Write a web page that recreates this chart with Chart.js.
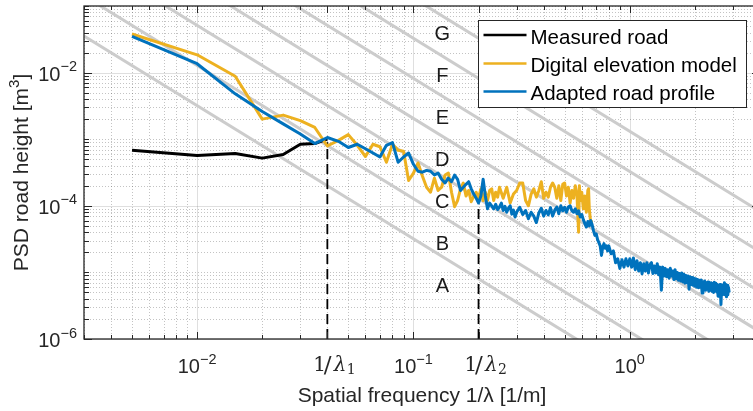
<!DOCTYPE html>
<html>
<head>
<meta charset="utf-8">
<script src="https://cdn.jsdelivr.net/npm/chart.js@4.4.0/dist/chart.umd.min.js"></script>
<style>
  html, body { margin: 0; padding: 0; background: #fff; overflow: hidden; }
  #wrap { width: 753px; height: 411px; overflow: hidden; }
  canvas { display: block; }
</style>
</head>
<body>
<div id="wrap"><canvas id="psd" width="770" height="411"></canvas></div>
<script>
// ---- data: PSD of road height vs spatial frequency (log-log) ----
const measuredFreq = [0.005, 0.01, 0.015, 0.02, 0.025, 0.03, 0.035, 0.04];
const measuredPsd  = [6.8e-4, 5.7e-4, 6.1e-4, 5.2e-4, 5.9e-4, 8.4e-4, 8.6e-4, 1.0e-3];

const demFreq = [
  0.005, 0.01, 0.015, 0.02, 0.025, 0.03, 0.035, 0.04, 0.045, 0.05,
  0.055, 0.06, 0.065, 0.07, 0.075, 0.08, 0.085, 0.09, 0.095, 0.1,
  0.105, 0.11, 0.115, 0.12, 0.125, 0.13, 0.135, 0.14, 0.145, 0.15,
  0.155, 0.16, 0.165, 0.17, 0.175, 0.18, 0.185, 0.19, 0.195, 0.2,
  0.205, 0.21, 0.215, 0.22, 0.225, 0.23, 0.235, 0.24, 0.245, 0.25,
  0.26, 0.27, 0.28, 0.29, 0.3, 0.31, 0.32, 0.33, 0.34, 0.35,
  0.36, 0.37, 0.38, 0.39, 0.4, 0.41, 0.42, 0.43, 0.44, 0.45,
  0.46, 0.47, 0.48, 0.49, 0.5, 0.51, 0.52, 0.53, 0.54, 0.55,
  0.56, 0.57, 0.58, 0.585, 0.59, 0.6, 0.61, 0.62, 0.63, 0.64,
  0.645, 0.65, 0.66, 0.667
];
const demPsd = [
  3.8e-2, 1.85e-2, 8.8e-3, 2.0e-3, 2.3e-3, 1.9e-3, 1.5e-3, 7.9e-4, 9.6e-4, 1.17e-3,
  8.1e-4, 5.5e-4, 8.4e-4, 7.7e-4, 4.5e-4, 8.4e-4, 6.8e-4, 6.6e-4, 2.4e-4, 3.1e-4,
  4.4e-4, 2.8e-4, 1.9e-4, 1.6e-4, 2.6e-4, 1.7e-4, 1.9e-4, 2.9e-4, 3.1e-4, 1.6e-4,
  9.7e-5, 1.2e-4, 1.8e-4, 2.2e-4, 1.4e-4, 1.7e-4, 1.15e-4, 1.4e-4, 1.6e-4, 1.3e-4,
  1.8e-4, 1.2e-4, 1.6e-4, 1.2e-4, 1.7e-4, 1.8e-4, 1.2e-4, 1.6e-4, 1.35e-4, 1.9e-4,
  1.3e-4, 1.9e-4, 1.1e-4, 1.5e-4, 1.7e-4, 2.2e-4, 2.2e-4, 1.2e-4, 1.0e-4, 1.5e-4,
  1.8e-4, 1.35e-4, 1.7e-4, 2.3e-4, 1.3e-4, 1.6e-4, 1.35e-4, 1.9e-4, 2.2e-4, 1.9e-4,
  1.3e-4, 2.0e-4, 1.2e-4, 2.1e-4, 2.2e-4, 1.4e-4, 1.9e-4, 1.1e-4, 1.7e-4, 1.3e-4,
  2.0e-4, 1.5e-4, 4.0e-5, 2.0e-4, 1.2e-4, 1.6e-4, 9.0e-5, 1.4e-4, 8.0e-5, 1.7e-4,
  1.8e-4, 9.0e-5, 5.5e-5, 6.1e-5
];

const adaptedFreq = [
  0.005, 0.01, 0.015, 0.02, 0.025, 0.03, 0.035, 0.04, 0.045, 0.05,
  0.055, 0.06, 0.065, 0.07, 0.075, 0.08, 0.085, 0.09, 0.095, 0.1,
  0.105, 0.11, 0.115, 0.12, 0.125, 0.13, 0.135, 0.14, 0.145, 0.15,
  0.155, 0.16, 0.165, 0.17, 0.175, 0.18, 0.185, 0.19, 0.195, 0.2,
  0.205, 0.21, 0.215, 0.22, 0.225, 0.23, 0.235, 0.24, 0.245, 0.25,
  0.255, 0.26, 0.265, 0.27, 0.275, 0.28, 0.285, 0.29, 0.295, 0.3,
  0.31, 0.32, 0.33, 0.34, 0.35, 0.36, 0.37, 0.38, 0.39, 0.4,
  0.41, 0.42, 0.43, 0.44, 0.45, 0.46, 0.47, 0.48, 0.49, 0.5,
  0.51, 0.52, 0.53, 0.54, 0.55, 0.56, 0.57, 0.58, 0.59, 0.6,
  0.61, 0.62, 0.63, 0.64, 0.65, 0.66, 0.67, 0.68, 0.69, 0.7,
  0.71, 0.72, 0.73, 0.74, 0.75, 0.76, 0.77, 0.78, 0.79,
  0.8, 0.82, 0.84, 0.86, 0.88, 0.9, 0.92, 0.94, 0.96, 0.98,
  1.0, 1.02, 1.04, 1.06, 1.08, 1.1, 1.12, 1.14, 1.16, 1.18,
  1.2, 1.22, 1.24, 1.26, 1.28, 1.3, 1.32, 1.34, 1.36, 1.38,
  1.4, 1.42, 1.44, 1.46, 1.48, 1.5, 1.52, 1.54, 1.56, 1.58,
  1.6, 1.62, 1.64, 1.66, 1.68, 1.7, 1.72, 1.74, 1.76, 1.78,
  1.8, 1.82, 1.84, 1.86, 1.88, 1.9, 1.92, 1.94, 1.96, 1.98,
  2.0, 2.02, 2.04, 2.06, 2.08, 2.1, 2.12, 2.14, 2.16, 2.18,
  2.2, 2.22, 2.24, 2.26, 2.28, 2.3, 2.32, 2.34, 2.36, 2.38,
  2.4, 2.42, 2.44, 2.46, 2.48, 2.5, 2.52, 2.54, 2.56, 2.58,
  2.6, 2.62, 2.64, 2.66, 2.68, 2.7, 2.72, 2.74, 2.76, 2.78,
  2.8, 2.82, 2.84, 2.86, 2.88
];
const adaptedPsd = [
  3.5e-2, 1.36e-2, 4.8e-3, 2.6e-3, 1.7e-3, 1.2e-3, 8.6e-4, 1.06e-3, 9.3e-4, 7.5e-4,
  8.4e-4, 7.2e-4, 6.2e-4, 5.4e-4, 8.1e-4, 8.9e-4, 4.5e-4, 5.4e-4, 6.2e-4, 4.2e-4,
  3.3e-4, 3.2e-4, 3.4e-4, 3.3e-4, 2.9e-4, 3.1e-4, 2.5e-4, 2.2e-4, 2.6e-4, 2.3e-4,
  2.9e-4, 2.5e-4, 1.7e-4, 1.9e-4, 2.1e-4, 2.3e-4, 1.8e-4, 1.5e-4, 1.3e-4, 1.1e-4,
  1.4e-4, 2.5e-4, 1.4e-4, 9.0e-5, 1.1e-4, 1.0e-4, 9.0e-5, 1.05e-4, 8.8e-5, 9.6e-5,
  1.1e-4, 8.5e-5, 9.8e-5, 8.0e-5, 9.2e-5, 1.0e-4, 7.5e-5, 8.6e-5, 6.8e-5, 8.0e-5,
  9.5e-5, 7.4e-5, 8.5e-5, 6.4e-5, 8.0e-5, 7.0e-5, 5.6e-5, 7.8e-5, 9.2e-5, 7.0e-5,
  8.5e-5, 7.3e-5, 9.4e-5, 7.0e-5, 8.6e-5, 9.6e-5, 7.6e-5, 1.0e-4, 8.4e-5, 9.5e-5,
  8.0e-5, 9.6e-5, 1.0e-4, 8.4e-5, 8.0e-5, 9.0e-5, 7.6e-5, 8.4e-5, 6.8e-5, 7.4e-5,
  6.2e-5, 5.4e-5, 4.8e-5, 5.8e-5, 5.0e-5, 6.0e-5, 5.2e-5, 4.2e-5, 3.6e-5, 3.8e-5,
  3.1e-5, 2.8e-5, 2.5e-5, 1.8e-5, 2.4e-5, 2.7e-5, 2.3e-5, 2.5e-5, 2.1e-5,
  2.5e-5, 1.9e-5, 2.1e-5, 1.4e-5, 1.6e-5, 1.15e-5, 1.55e-5, 1.2e-5, 1.6e-5, 1.25e-5,
  1.6e-5, 1.2e-5, 1.65e-5, 1.1e-5, 1.5e-5, 1.05e-5, 1.4e-5, 9.5e-6, 1.35e-5, 1.05e-5,
  1.4e-5, 9.8e-6, 1.3e-5, 1.4e-5, 9.6e-6, 1.25e-5, 9.8e-6, 1.35e-5, 9.2e-6, 1.2e-5,
  5.4e-6, 1.2e-5, 8.8e-6, 1.15e-5, 8.6e-6, 1.1e-5, 8.2e-6, 1.15e-5, 8.8e-6, 1.05e-5,
  7.8e-6, 1.1e-5, 8.0e-6, 1.0e-5, 7.6e-6, 9.6e-6, 7.4e-6, 9.8e-6, 7.2e-6, 9.4e-6,
  6.9e-6, 9.0e-6, 7.0e-6, 8.8e-6, 5.6e-6, 8.6e-6, 6.6e-6, 8.4e-6, 6.4e-6, 8.2e-6,
  6.2e-6, 8.0e-6, 6.0e-6, 7.8e-6, 5.9e-6, 7.6e-6, 6.0e-6, 7.7e-6, 4.9e-6, 7.2e-6,
  5.6e-6, 7.4e-6, 5.4e-6, 7.0e-6, 5.6e-6, 7.2e-6, 5.2e-6, 6.9e-6, 5.4e-6, 7.0e-6,
  5.2e-6, 6.8e-6, 5.0e-6, 7.1e-6, 5.3e-6, 6.9e-6, 5.1e-6, 6.6e-6, 4.4e-6, 6.4e-6,
  4.8e-6, 6.6e-6, 3.3e-6, 6.2e-6, 4.6e-6, 6.5e-6, 4.8e-6, 7.0e-6, 4.6e-6, 6.6e-6,
  4.3e-6, 6.4e-6, 4.6e-6, 6.0e-6, 5.0e-6
];

// ISO 8608 class boundaries, drawn from n = 0.003 to n = 4 1/m
const isoFreq  = [0.003, 4];
const isoStart = [3.556e-2, 1.422e-1, 5.689e-1, 2.276, 9.102, 36.41, 145.6];
const isoEnd   = [2.0e-8, 8.0e-8, 3.2e-7, 1.28e-6, 5.12e-6, 2.048e-5, 8.192e-5];

// road class letters
const classNames = ['A', 'B', 'C', 'D', 'E', 'F', 'G'];
const classLabelFreq = 0.136;
const classLabelPsd = [6.3e-6, 2.72e-5, 1.15e-4, 4.88e-4, 2.13e-3, 8.93e-3, 3.83e-2];

// wavelength limits 1/λ1, 1/λ2
const limitFreq = [0.04, 0.2];
const limitPsd  = [9.0e-4, 1.05e-4];

// axis ticks
const xTicks = [1e-2, 0.04, 1e-1, 0.2, 1];
const xTickLabels = ['10^\u22122', '1/λ_1', '10^\u22121', '1/λ_2', '10^0'];
const yTicks = [1e-6, 1e-4, 1e-2];
const yTickLabels = ['10^\u22126', '10^\u22124', '10^\u22122'];
const xMajorGrid = [1e-2, 1e-1, 1];

const X_MIN = 0.003, X_MAX = 4, Y_MIN = 1e-6, Y_MAX = 1e-1;

const SANS = '"Liberation Sans", Arial, Helvetica, sans-serif';
const SERIF = '"DejaVu Serif", "Liberation Serif", serif';
const AXIS_COLOR = '#262626';
const BLUE = '#0072BD', YELLOW = '#EDB120';

const toPoints = (xs, ys) => xs.map((v, i) => ({x: v, y: ys[i]}));

// 1..9 x 10^k inside [lo, hi]
function logSteps(lo, hi) {
  const out = [];
  for (let k = Math.floor(Math.log10(lo)); k <= Math.ceil(Math.log10(hi)); k++) {
    for (let m = 1; m <= 9; m++) {
      const v = m * Math.pow(10, k);
      if (v >= lo * 0.999 && v <= hi * 1.001) out.push(v);
    }
  }
  return out;
}
const isIn = (list, v) => list.some(m => Math.abs(m - v) / m < 1e-6);

function drawPow(ctx, text, x, y, align) {
  const [base, exp] = text.split('^');
  ctx.font = `20px ${SANS}`;
  const wb = ctx.measureText(base).width;
  ctx.font = `14.5px ${SANS}`;
  const we = ctx.measureText(exp).width;
  const left = align === 'center' ? x - (wb + we) / 2 : x - wb - we;
  ctx.textAlign = 'left';
  ctx.font = `20px ${SANS}`;
  ctx.fillText(base, left, y);
  ctx.font = `14.5px ${SANS}`;
  ctx.fillText(exp, left + wb, y - 9.5);
}

// "1/λ_k" in a LaTeX-like serif style
function drawInvLambda(ctx, text, x, y) {
  const sub = text.split('_')[1];
  const left = x - 14;
  ctx.textAlign = 'left';
  ctx.font = `20px ${SERIF}`;
  ctx.fillText('1', left, y);
  ctx.font = `23px ${SERIF}`;
  ctx.fillText('/', left + 10.5, y + 1);
  ctx.font = `italic 20px ${SERIF}`;
  ctx.fillText('λ', left + 20.5, y);
  ctx.font = `14px ${SERIF}`;
  ctx.fillText(sub, left + 33.5, y + 3);
}

const axesPlugin = {
  id: 'matlabAxes',
  beforeDatasetsDraw(chart) {
    const {ctx, chartArea: a, scales: {x, y}} = chart;
    ctx.save();
    ctx.lineWidth = 1;
    // minor grid, dotted
    ctx.strokeStyle = 'rgba(38,38,38,0.28)';
    ctx.setLineDash([1, 2]);
    logSteps(X_MIN, X_MAX).forEach(v => {
      if (isIn(xMajorGrid, v)) return;
      const px = Math.round(x.getPixelForValue(v)) + 0.5;
      ctx.beginPath(); ctx.moveTo(px, a.top); ctx.lineTo(px, a.bottom); ctx.stroke();
    });
    logSteps(Y_MIN, Y_MAX).forEach(v => {
      if (isIn(yTicks, v)) return;
      const py = Math.round(y.getPixelForValue(v)) + 0.5;
      ctx.beginPath(); ctx.moveTo(a.left, py); ctx.lineTo(a.right, py); ctx.stroke();
    });
    // major grid, solid
    ctx.setLineDash([]);
    ctx.strokeStyle = 'rgba(38,38,38,0.15)';
    xMajorGrid.forEach(v => {
      const px = Math.round(x.getPixelForValue(v)) + 0.5;
      ctx.beginPath(); ctx.moveTo(px, a.top); ctx.lineTo(px, a.bottom); ctx.stroke();
    });
    yTicks.forEach(v => {
      const py = Math.round(y.getPixelForValue(v)) + 0.5;
      ctx.beginPath(); ctx.moveTo(a.left, py); ctx.lineTo(a.right, py); ctx.stroke();
    });
    ctx.restore();
  },
  afterDatasetsDraw(chart) {
    const {ctx, chartArea: a, scales: {x, y}} = chart;
    ctx.save();

    // class letters
    ctx.fillStyle = '#1a1a1a';
    ctx.font = `20px ${SANS}`;
    ctx.textAlign = 'center';
    ctx.textBaseline = 'middle';
    classNames.forEach((c, i) => {
      ctx.fillText(c, x.getPixelForValue(classLabelFreq), y.getPixelForValue(classLabelPsd[i]) + 1);
    });

    // box and ticks
    ctx.strokeStyle = AXIS_COLOR;
    ctx.lineWidth = 1.3;
    ctx.strokeRect(a.left, a.top, a.right - a.left, a.bottom - a.top);
    ctx.lineWidth = 1;
    const xMinor = logSteps(X_MIN, X_MAX).filter(v => !isIn(xTicks, v));
    const yMinor = logSteps(Y_MIN, Y_MAX).filter(v => !isIn(yTicks, v));
    const vTick = (v, len) => {
      const px = Math.round(x.getPixelForValue(v)) + 0.5;
      ctx.beginPath();
      ctx.moveTo(px, a.bottom); ctx.lineTo(px, a.bottom - len);
      ctx.moveTo(px, a.top); ctx.lineTo(px, a.top + len);
      ctx.stroke();
    };
    const hTick = (v, len) => {
      const py = Math.round(y.getPixelForValue(v)) + 0.5;
      ctx.beginPath();
      ctx.moveTo(a.left, py); ctx.lineTo(a.left + len, py);
      ctx.moveTo(a.right, py); ctx.lineTo(a.right - len, py);
      ctx.stroke();
    };
    xMinor.forEach(v => vTick(v, 4));
    xTicks.forEach(v => vTick(v, 7));
    yMinor.forEach(v => hTick(v, 5));
    yTicks.forEach(v => hTick(v, 8));

    // tick labels
    ctx.fillStyle = AXIS_COLOR;
    ctx.textBaseline = 'alphabetic';
    xTicks.forEach((v, i) => {
      const px = x.getPixelForValue(v);
      const t = xTickLabels[i];
      if (t.includes('^')) drawPow(ctx, t, px, a.bottom + 34, 'center');
      else drawInvLambda(ctx, t, px, a.bottom + 32);
    });
    yTicks.forEach((v, i) => {
      drawPow(ctx, yTickLabels[i], a.left - 7, y.getPixelForValue(v) + 8, 'right');
    });

    // axis titles
    ctx.font = `21px ${SANS}`;
    ctx.textAlign = 'center';
    ctx.fillText('Spatial frequency 1/λ [1/m]', (a.left + a.right) / 2, a.bottom + 63);

    ctx.save();
    ctx.translate(28, (a.top + a.bottom) / 2);
    ctx.rotate(-Math.PI / 2);
    ctx.textAlign = 'left';
    ctx.font = `21px ${SANS}`;
    const head = 'PSD road height [m';
    const wHead = ctx.measureText(head).width;
    const wTail = ctx.measureText(']').width;
    ctx.font = `15px ${SANS}`;
    const wSup = ctx.measureText('3').width;
    const start = -(wHead + wSup + wTail) / 2;
    ctx.font = `21px ${SANS}`;
    ctx.fillText(head, start, 0);
    ctx.fillText(']', start + wHead + wSup, 0);
    ctx.font = `15px ${SANS}`;
    ctx.fillText('3', start + wHead, -9);
    ctx.restore();

    ctx.restore();
  },
  afterDraw(chart) {
    const {ctx, chartArea: a} = chart;
    const entries = chart.data.datasets.filter(d => d.legendRow !== undefined)
      .sort((p, q) => p.legendRow - q.legendRow);
    const bw = 268, bh = 87;
    const bx = Math.round(a.right - 14 - bw) + 0.5, by = Math.round(a.top + 14) + 0.5;
    ctx.save();
    ctx.fillStyle = '#fff';
    ctx.fillRect(bx, by, bw, bh);
    ctx.strokeStyle = AXIS_COLOR;
    ctx.lineWidth = 1;
    ctx.strokeRect(bx, by, bw, bh);
    const rowsY = [14.5, 43, 71];
    entries.forEach((d, i) => {
      const ly = by + rowsY[i];
      ctx.strokeStyle = d.borderColor;
      ctx.lineWidth = 2.5;
      ctx.beginPath(); ctx.moveTo(bx + 5, ly); ctx.lineTo(bx + 48, ly); ctx.stroke();
      ctx.fillStyle = '#000';
      ctx.font = `20.5px ${SANS}`;
      ctx.textAlign = 'left';
      ctx.textBaseline = 'alphabetic';
      ctx.fillText(d.label, bx + 52, ly + 8.5);
    });
    ctx.restore();
  }
};

const isoSets = isoStart.map((s, i) => ({
  label: 'iso' + i,
  data: [{x: isoFreq[0], y: s}, {x: isoFreq[1], y: isoEnd[i]}],
  borderColor: '#cccccc',
  borderWidth: 3,
  order: 10
}));
const limitSets = limitFreq.map((f, i) => ({
  label: 'limit' + i,
  data: [{x: f, y: Y_MIN}, {x: f, y: limitPsd[i]}],
  borderColor: '#000',
  borderWidth: 1.8,
  borderDash: [10, 5],
  order: 5
}));

new Chart(document.getElementById('psd'), {
  type: 'line',
  data: {
    datasets: [
      {label: 'Adapted road profile', legendRow: 2, data: toPoints(adaptedFreq, adaptedPsd), borderColor: BLUE, borderWidth: 3, order: 0},
      {label: 'Digital elevation model', legendRow: 1, data: toPoints(demFreq, demPsd), borderColor: YELLOW, borderWidth: 3, order: 1},
      {label: 'Measured road', legendRow: 0, data: toPoints(measuredFreq, measuredPsd), borderColor: '#000', borderWidth: 3, order: 2},
      ...limitSets,
      ...isoSets
    ]
  },
  options: {
    responsive: false,
    animation: false,
    events: [],
    layout: {padding: {left: 84, top: 6, right: 10, bottom: 72}},
    scales: {
      x: {type: 'logarithmic', min: X_MIN, max: X_MAX, display: false},
      y: {type: 'logarithmic', min: Y_MIN, max: Y_MAX, display: false}
    },
    datasets: {line: {clip: 0, pointRadius: 0, tension: 0, borderJoinStyle: 'round', fill: false}},
    plugins: {legend: {display: false}, tooltip: {enabled: false}}
  },
  plugins: [axesPlugin]
});
</script>
</body>
</html>
